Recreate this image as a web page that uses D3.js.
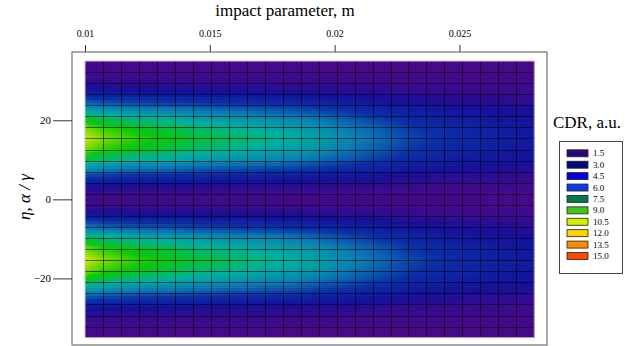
<!DOCTYPE html>
<html>
<head>
<meta charset="utf-8">
<script src="https://cdn.jsdelivr.net/npm/d3@7"></script>
<style>
  body { margin: 0; background: #fff; }
  svg { display: block; }
  text { font-family: "Liberation Serif", "Times New Roman", serif; fill: #000; }
</style>
</head>
<body>
<svg id="chart" width="641" height="346"></svg>
<script>
// grid nodes of the computed map
const impactParam = [0.01, 0.01072, 0.01144, 0.01216, 0.01288, 0.0136, 0.01432, 0.01504, 0.01576,
  0.01648, 0.0172, 0.01792, 0.01864, 0.01936, 0.02008, 0.0208, 0.02152, 0.02224, 0.02296,
  0.02368, 0.0244, 0.02512, 0.02584, 0.02656, 0.02728, 0.028];
const eta = [35, 32.2, 29.4, 26.6, 23.8, 21, 18.2, 15.4, 12.6, 9.8, 7, 4.2, 1.4,
  -1.4, -4.2, -7, -9.8, -12.6, -15.4, -18.2, -21, -23.8, -26.6, -29.4, -32.2, -35];

// CDR values, one row per eta node (top to bottom), one column per impact parameter
const cdr = [
  [1.5,1.5,1.5,1.5,1.5,1.5,1.5,1.5,1.5,1.5,1.5,1.5,1.5,1.5,1.5,1.5,1.5,1.5,1.5,1.5,1.5,1.5,1.5,1.5,1.5,1.5],
  [1.8,1.8,1.7,1.7,1.7,1.7,1.7,1.7,1.7,1.7,1.7,1.7,1.7,1.7,1.6,1.6,1.6,1.6,1.6,1.6,1.6,1.6,1.6,1.6,1.6,1.6],
  [2.3,2.3,2.2,2.2,2.2,2.2,2.1,2.1,2.1,2.1,2.1,2.0,2.0,2.0,2.0,1.9,1.9,1.9,1.8,1.8,1.8,1.7,1.7,1.7,1.7,1.7],
  [3.8,3.6,3.5,3.5,3.4,3.4,3.3,3.2,3.2,3.1,3.1,3.0,3.0,2.9,2.8,2.7,2.6,2.5,2.4,2.3,2.2,2.2,2.1,2.1,2.0,2.0],
  [6.1,5.8,5.6,5.4,5.3,5.2,5.1,5.0,4.9,4.8,4.7,4.6,4.5,4.3,4.1,3.9,3.7,3.5,3.3,3.1,3.0,2.9,2.8,2.7,2.6,2.5],
  [8.3,7.9,7.6,7.4,7.2,7.1,6.8,6.7,6.5,6.4,6.2,6.1,5.9,5.6,5.3,5.0,4.7,4.4,4.1,3.9,3.7,3.5,3.4,3.2,3.1,3.0],
  [9.9,9.3,9.0,8.7,8.5,8.3,8.0,7.9,7.7,7.5,7.3,7.1,6.9,6.6,6.2,5.8,5.5,5.1,4.7,4.4,4.2,4.0,3.8,3.6,3.4,3.3],
  [10.6,10.0,9.6,9.3,9.1,8.9,8.6,8.4,8.2,8.0,7.8,7.6,7.4,7.0,6.6,6.2,5.8,5.4,5.0,4.7,4.4,4.2,4.0,3.8,3.6,3.5],
  [9.9,9.3,9.0,8.7,8.5,8.3,8.0,7.9,7.7,7.5,7.3,7.1,6.9,6.6,6.2,5.8,5.5,5.1,4.7,4.4,4.2,4.0,3.8,3.6,3.4,3.3],
  [8.3,7.9,7.6,7.4,7.2,7.1,6.8,6.7,6.5,6.4,6.2,6.1,5.9,5.6,5.3,5.0,4.7,4.4,4.1,3.9,3.7,3.5,3.4,3.2,3.1,3.0],
  [5.9,5.6,5.4,5.2,5.2,5.1,4.9,4.8,4.7,4.6,4.5,4.4,4.3,4.1,4.0,3.8,3.6,3.4,3.2,3.0,2.9,2.8,2.7,2.6,2.5,2.5],
  [3.5,3.4,3.3,3.2,3.2,3.1,3.1,3.0,3.0,2.9,2.9,2.8,2.8,2.7,2.6,2.5,2.5,2.4,2.3,2.2,2.1,2.1,2.1,2.0,2.0,1.9],
  [1.9,1.8,1.8,1.8,1.8,1.8,1.8,1.8,1.8,1.8,1.8,1.7,1.7,1.7,1.7,1.7,1.7,1.7,1.6,1.6,1.6,1.6,1.6,1.6,1.6,1.6],
  [1.9,1.8,1.8,1.8,1.8,1.8,1.8,1.8,1.8,1.8,1.8,1.7,1.7,1.7,1.7,1.7,1.7,1.7,1.6,1.6,1.6,1.6,1.6,1.6,1.6,1.6],
  [3.5,3.4,3.3,3.2,3.2,3.1,3.1,3.0,3.0,2.9,2.9,2.8,2.8,2.7,2.6,2.5,2.5,2.4,2.3,2.2,2.1,2.1,2.1,2.0,2.0,1.9],
  [5.9,5.6,5.4,5.2,5.2,5.1,4.9,4.8,4.7,4.6,4.5,4.4,4.3,4.1,4.0,3.8,3.6,3.4,3.2,3.0,2.9,2.8,2.7,2.6,2.5,2.5],
  [8.3,7.9,7.6,7.4,7.2,7.1,6.8,6.7,6.5,6.4,6.2,6.1,5.9,5.6,5.3,5.0,4.7,4.4,4.1,3.9,3.7,3.5,3.4,3.2,3.1,3.0],
  [9.9,9.3,9.0,8.7,8.5,8.3,8.0,7.9,7.7,7.5,7.3,7.1,6.9,6.6,6.2,5.8,5.5,5.1,4.7,4.4,4.2,4.0,3.8,3.6,3.4,3.3],
  [10.6,10.0,9.6,9.3,9.1,8.9,8.6,8.4,8.2,8.0,7.8,7.6,7.4,7.0,6.6,6.2,5.8,5.4,5.0,4.7,4.4,4.2,4.0,3.8,3.6,3.5],
  [9.9,9.3,9.0,8.7,8.5,8.3,8.0,7.9,7.7,7.5,7.3,7.1,6.9,6.6,6.2,5.8,5.5,5.1,4.7,4.4,4.2,4.0,3.8,3.6,3.4,3.3],
  [8.3,7.9,7.6,7.4,7.2,7.1,6.8,6.7,6.5,6.4,6.2,6.1,5.9,5.6,5.3,5.0,4.7,4.4,4.1,3.9,3.7,3.5,3.4,3.2,3.1,3.0],
  [6.1,5.8,5.6,5.4,5.3,5.2,5.1,5.0,4.9,4.8,4.7,4.6,4.5,4.3,4.1,3.9,3.7,3.5,3.3,3.1,3.0,2.9,2.8,2.7,2.6,2.5],
  [3.8,3.6,3.5,3.5,3.4,3.4,3.3,3.2,3.2,3.1,3.1,3.0,3.0,2.9,2.8,2.7,2.6,2.5,2.4,2.3,2.2,2.2,2.1,2.1,2.0,2.0],
  [2.3,2.3,2.2,2.2,2.2,2.2,2.1,2.1,2.1,2.1,2.1,2.0,2.0,2.0,2.0,1.9,1.9,1.9,1.8,1.8,1.8,1.7,1.7,1.7,1.7,1.7],
  [1.8,1.8,1.7,1.7,1.7,1.7,1.7,1.7,1.7,1.7,1.7,1.7,1.7,1.7,1.6,1.6,1.6,1.6,1.6,1.6,1.6,1.6,1.6,1.6,1.6,1.6],
  [1.5,1.5,1.5,1.5,1.5,1.5,1.5,1.5,1.5,1.5,1.5,1.5,1.5,1.5,1.5,1.5,1.5,1.5,1.5,1.5,1.5,1.5,1.5,1.5,1.5,1.5]
];

const xTicks = [0.01, 0.015, 0.02, 0.025];
const yTicks = [-20, 0, 20];

const levels = [1.5, 3.0, 4.5, 6.0, 7.5, 9.0, 10.5, 12.0, 13.5, 15.0];
const levelLabels = ['1.5', '3.0', '4.5', '6.0', '7.5', '9.0', '10.5', '12.0', '13.5', '15.0'];
// colours as seen in the shaded map
const shadeColors = ['#4a0888', '#16109a', '#0a30a8', '#0a7cb4', '#00b0a0', '#08c808', '#c4e400', '#ffd200', '#ff8c00', '#ff4600'];
// colours of the legend swatches
const legendColors = ['#2a0a78', '#08087e', '#0000e0', '#0a3ce0', '#007a48', '#3cc814', '#d2f000', '#ffd200', '#ff8c00', '#ff4600'];

const svg = d3.select('#chart');

const x = d3.scaleLinear().domain([0.01, 0.028]).range([85, 534.3]);
const y = d3.scaleLinear().domain([-35, 35]).range([337.7, 61]);
const color = d3.scaleLinear().domain(levels).range(shadeColors).clamp(true);

// plot frame
svg.append('rect')
  .attr('x', 72).attr('y', 52)
  .attr('width', 475).attr('height', 293)
  .attr('fill', '#fff')
  .attr('stroke', '#707070')
  .attr('stroke-width', 1.2);

// smooth shading: split every mesh cell and interpolate its corner values
const nx = 6, ny = 4;
const pieces = [];
for (let j = 0; j < eta.length - 1; j++) {
  for (let i = 0; i < impactParam.length - 1; i++) {
    const x0 = x(impactParam[i]), x1 = x(impactParam[i + 1]);
    const y0 = y(eta[j]), y1 = y(eta[j + 1]);
    const v00 = cdr[j][i], v10 = cdr[j][i + 1], v01 = cdr[j + 1][i], v11 = cdr[j + 1][i + 1];
    for (let a = 0; a < nx; a++) {
      for (let b = 0; b < ny; b++) {
        const u = (a + 0.5) / nx, w = (b + 0.5) / ny;
        const v = v00 * (1 - u) * (1 - w) + v10 * u * (1 - w) + v01 * (1 - u) * w + v11 * u * w;
        pieces.push({
          x: x0 + (x1 - x0) * a / nx,
          y: y0 + (y1 - y0) * b / ny,
          w: (x1 - x0) / nx,
          h: (y1 - y0) / ny,
          v: v
        });
      }
    }
  }
}

svg.append('g')
  .attr('class', 'shading')
  .attr('shape-rendering', 'crispEdges')
  .selectAll('rect')
  .data(pieces)
  .enter()
  .append('rect')
  .attr('x', d => d.x)
  .attr('y', d => d.y)
  .attr('width', d => d.w + 0.6)
  .attr('height', d => d.h + 0.6)
  .attr('fill', d => color(d.v));

// mesh lines
const mesh = svg.append('g').attr('class', 'mesh')
  .attr('stroke', '#000')
  .attr('stroke-opacity', 0.55)
  .attr('stroke-width', 1);

mesh.selectAll('line.v')
  .data(impactParam.slice(1, -1))
  .enter()
  .append('line')
  .attr('class', 'v')
  .attr('x1', d => Math.round(x(d)) + 0.5).attr('x2', d => Math.round(x(d)) + 0.5)
  .attr('y1', y(35)).attr('y2', y(-35));

mesh.selectAll('line.h')
  .data(eta.slice(1, -1))
  .enter()
  .append('line')
  .attr('class', 'h')
  .attr('y1', d => Math.round(y(d)) + 0.5).attr('y2', d => Math.round(y(d)) + 0.5)
  .attr('x1', x(0.01)).attr('x2', x(0.028));

svg.append('rect')
  .attr('x', x(0.01)).attr('y', y(35))
  .attr('width', x(0.028) - x(0.01))
  .attr('height', y(-35) - y(35))
  .attr('fill', 'none')
  .attr('stroke', '#c8c8c8')
  .attr('stroke-width', 1);

// axes
const xAxis = svg.append('g')
  .attr('transform', 'translate(0,52)')
  .call(d3.axisTop(x).tickValues(xTicks).tickFormat(d3.format('')).tickSize(7).tickPadding(8));
xAxis.select('.domain').remove();
xAxis.selectAll('line').attr('stroke', '#333');
xAxis.selectAll('text').attr('font-size', 10).attr('font-family', '"Liberation Serif", serif');

const yAxis = svg.append('g')
  .attr('transform', 'translate(72,0)')
  .call(d3.axisLeft(y).tickValues(yTicks).tickSize(19).tickPadding(2));
yAxis.select('.domain').remove();
yAxis.selectAll('line').attr('stroke', '#333');
yAxis.selectAll('text').attr('font-size', 11).attr('font-family', '"Liberation Serif", serif');

// titles
svg.append('text')
  .attr('x', 285).attr('y', 16)
  .attr('text-anchor', 'middle')
  .attr('font-size', 17)
  .text('impact parameter, m');

svg.append('text')
  .attr('transform', 'translate(30,197) rotate(-90)')
  .attr('text-anchor', 'middle')
  .attr('font-size', 17)
  .attr('font-style', 'italic')
  .text('η, α / γ');

// legend
svg.append('text')
  .attr('x', 553).attr('y', 128)
  .attr('font-size', 17)
  .text('CDR, a.u.');

svg.append('rect')
  .attr('x', 559.5).attr('y', 141.5)
  .attr('width', 63).attr('height', 132)
  .attr('fill', '#fff')
  .attr('stroke', '#444')
  .attr('stroke-width', 1);

const legendY = d3.scalePoint().domain(levelLabels).range([153.3, 256]);

const items = svg.append('g').attr('class', 'legend')
  .selectAll('g')
  .data(levelLabels)
  .enter()
  .append('g')
  .attr('transform', d => `translate(0,${legendY(d)})`);

items.append('rect')
  .attr('x', 567).attr('y', -3.5)
  .attr('width', 21).attr('height', 7)
  .attr('fill', (d, i) => legendColors[i])
  .attr('stroke', '#222')
  .attr('stroke-width', 0.8);

items.append('text')
  .attr('x', 593).attr('y', 3)
  .attr('font-size', 9)
  .text(d => d);
</script>
</body>
</html>
